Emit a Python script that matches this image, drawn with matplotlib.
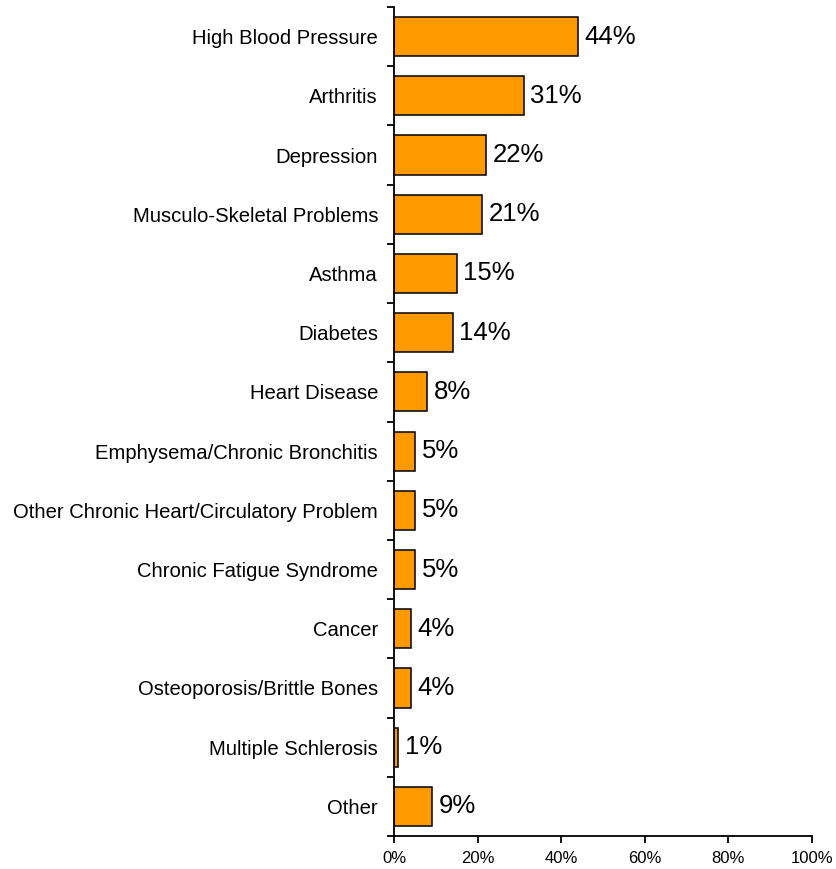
import numpy as np
import matplotlib.pyplot as plt
from matplotlib.ticker import FixedLocator, PercentFormatter

conditions = [
    "High Blood Pressure",
    "Arthritis",
    "Depression",
    "Musculo-Skeletal Problems",
    "Asthma",
    "Diabetes",
    "Heart Disease",
    "Emphysema/Chronic Bronchitis",
    "Other Chronic Heart/Circulatory Problem",
    "Chronic Fatigue Syndrome",
    "Cancer",
    "Osteoporosis/Brittle Bones",
    "Multiple Schlerosis",
    "Other",
]
percent = [44, 31, 22, 21, 15, 14, 8, 5, 5, 5, 4, 4, 1, 9]

plt.rcParams["font.family"] = ["Liberation Sans", "DejaVu Sans"]

fig = plt.figure(figsize=(8.36, 8.69), dpi=100)
ax = fig.add_axes([394 / 836, 33 / 869, 418 / 836, 829 / 869])

y = np.arange(len(conditions))
ax.barh(y, percent, height=0.66, color="#FF9900", edgecolor="black", linewidth=1.1)

# value labels just past the end of each bar
for yi, v in zip(y, percent):
    ax.text(v + 1.6, yi, f"{v}%", va="center", ha="left", fontsize=18.5)

ax.set_xlim(0, 100)
ax.set_ylim(len(conditions) - 0.5, -0.5)
ax.set_xticks(np.arange(0, 101, 20))
ax.xaxis.set_major_formatter(PercentFormatter(decimals=0))
ax.set_yticks(y)
ax.set_yticklabels(conditions, fontsize=14.6)
ax.tick_params(axis="y", which="major", length=0, pad=11.5)
# tick marks sit between the categories
ax.yaxis.set_minor_locator(FixedLocator(np.arange(-0.5, len(conditions), 1)))
ax.tick_params(axis="y", which="minor", length=5, width=1.3, direction="out")
ax.tick_params(axis="x", length=5, width=1.3, direction="out", labelsize=12, pad=6)

for side in ("top", "right"):
    ax.spines[side].set_visible(False)
for side in ("left", "bottom"):
    ax.spines[side].set_linewidth(1.3)

fig.savefig("out.png", dpi=100)
